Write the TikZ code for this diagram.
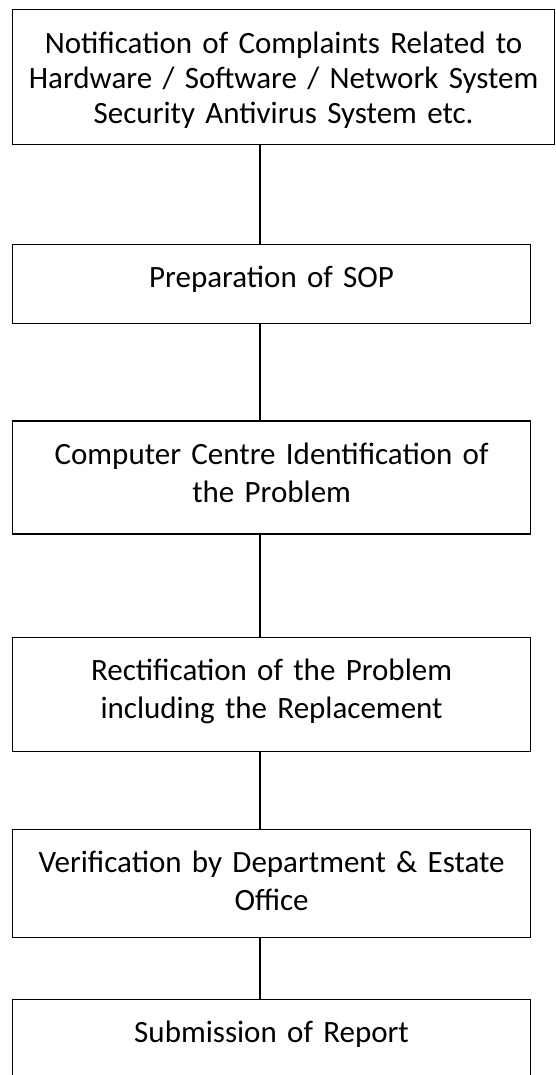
\documentclass[tikz,border=0pt]{standalone}
\usepackage{fontspec}
\setmainfont{Carlito}
\usetikzlibrary{positioning}

\tikzset{
  stepbox/.style={draw, line width=1.2pt, inner sep=0pt, align=center,
    text width=518pt, text height=43pt, font=\fontsize{31}{38}\selectfont},
}

\begin{document}
\begin{tikzpicture}[x=1pt, y=1pt]
\useasboundingbox (0,0) rectangle (555,-1075);
\coordinate (spine) at (260,0);

\node(note)[stepbox, text width=542pt, text height=44pt, text depth=91pt,
  font=\fontsize{31}{35}\selectfont, anchor=north west] at (12,-9)
  {Notification of Complaints Related to\\Hardware / Software / Network System\\Security Antivirus System etc.};
\node(sop)[stepbox, text depth=36pt, below=99pt of note.south west, anchor=north west]
  {Preparation of SOP};
\node(ident)[stepbox, text depth=70pt, below=96pt of sop.south west, anchor=north west]
  {Computer Centre Identification of\\the Problem};
\node(rect)[stepbox, text depth=71pt, below=102pt of ident.south west, anchor=north west]
  {Rectification of the Problem\\including the Replacement};
\node(verify)[stepbox, text depth=65pt, below=77pt of rect.south west, anchor=north west]
  {Verification by Department \& Estate\\Office};
\node(report)[stepbox, text depth=38pt, below=61pt of verify.south west, anchor=north west]
  {Submission of Report};

\draw[line width=1.2pt] (note.south -| spine) -- (sop.north -| spine);
\draw[line width=1.2pt] (sop.south -| spine) -- (ident.north -| spine);
\draw[line width=1.2pt] (ident.south -| spine) -- (rect.north -| spine);
\draw[line width=1.2pt] (rect.south -| spine) -- (verify.north -| spine);
\draw[line width=1.2pt] (verify.south -| spine) -- (report.north -| spine);
\end{tikzpicture}
\end{document}
